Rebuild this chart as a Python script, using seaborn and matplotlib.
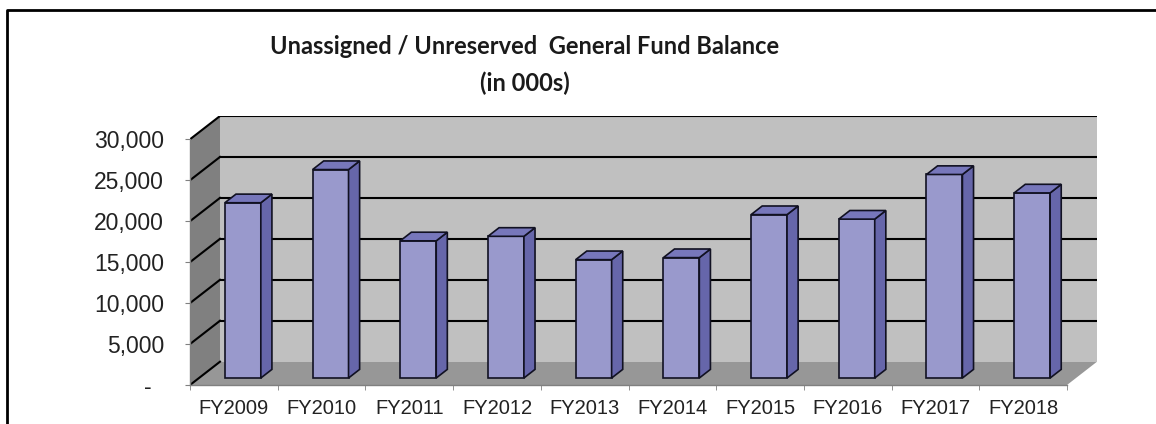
import matplotlib
matplotlib.use("Agg")
import matplotlib.pyplot as plt
import seaborn as sns
from matplotlib.patches import Polygon
from matplotlib.lines import Line2D
from matplotlib.ticker import FixedLocator

# Data (in 000s)
years = ['FY2009', 'FY2010', 'FY2011', 'FY2012', 'FY2013',
         'FY2014', 'FY2015', 'FY2016', 'FY2017', 'FY2018']
balance = [21400, 25450, 16750, 17300, 14450, 14700, 19950, 19400, 24850, 22600]
y_ticks = [0, 5000, 10000, 15000, 20000, 25000, 30000]
y_labels = ['-  ', '5,000', '10,000', '15,000', '20,000', '25,000', '30,000']

# fake 3d look
DX = 0.342      # depth offset in category units
DY = 2845       # depth offset in value units
FRONT = 0.30    # bar front plane (fraction of depth)
DEPTH = 0.37    # bar depth (fraction of depth)
c_front, c_side, c_top = '#9999CC', '#6666AA', '#7777BB'

W, H = 1156, 424
fig = plt.figure(figsize=(W / 100, H / 100), dpi=100)
ax = fig.add_axes([190 / W, 39 / H, (1097 - 190) / W, (385 - 116) / H])

sns.barplot(x=years, y=balance, color=c_front, saturation=1, width=0.41, ax=ax)
bars = list(ax.patches)

ax.set_xlim(-0.5, len(years) - 0.5 + DX)
ax.set_ylim(0, y_ticks[-1] + DY)
x0, x1 = -0.5, len(years) - 0.5
top = y_ticks[-1]

# walls and floor
ax.add_patch(Polygon([(x0, 0), (x0, top), (x0 + DX, top + DY), (x0 + DX, DY)],
                     closed=True, facecolor='#808080', edgecolor='none', zorder=1))
ax.add_patch(Polygon([(x0, 0), (x1, 0), (x1 + DX, DY), (x0 + DX, DY)],
                     closed=True, facecolor='#979797', edgecolor='none', zorder=1))
ax.add_patch(Polygon([(x0 + DX, DY), (x1 + DX, DY), (x1 + DX, top + DY), (x0 + DX, top + DY)],
                     closed=True, facecolor='#C0C0C0', edgecolor='none', zorder=1))

for v in y_ticks:
    ax.plot([x0, x0 + DX], [v, v + DY], color='black', lw=1.5, zorder=2)
    if v > 0:
        ax.plot([x0 + DX, x1 + DX], [v + DY, v + DY], color='black', lw=1.5, zorder=2)

# turn flat bars into boxes
for p in bars:
    bx, bw, bh = p.get_x(), p.get_width(), p.get_height()
    fx, fy = bx + FRONT * DX, FRONT * DY
    p.set_x(fx)
    p.set_y(fy)
    p.set_edgecolor('#111122')
    p.set_linewidth(1.2)
    p.set_zorder(4)
    ddx, ddy = DEPTH * DX, DEPTH * DY
    side = [(fx + bw, fy), (fx + bw, fy + bh), (fx + bw + ddx, fy + bh + ddy), (fx + bw + ddx, fy + ddy)]
    lid = [(fx, fy + bh), (fx + bw, fy + bh), (fx + bw + ddx, fy + bh + ddy), (fx + ddx, fy + bh + ddy)]
    ax.add_patch(Polygon(side, closed=True, facecolor=c_side, edgecolor='#111122', lw=1.2, zorder=4))
    ax.add_patch(Polygon(lid, closed=True, facecolor=c_top, edgecolor='#111122', lw=1.2, zorder=4))

# axes styling
for s in ['top', 'right']:
    ax.spines[s].set_visible(False)
ax.spines['left'].set_bounds(0, top)
ax.spines['bottom'].set_bounds(x0, x1)
for s in ['left', 'bottom']:
    ax.spines[s].set_color('#808080')
    ax.spines[s].set_linewidth(1)
    ax.spines[s].set_zorder(3)

ax.set_yticks(y_ticks)
ax.set_yticklabels(y_labels, fontfamily='Liberation Sans', fontsize=16.5)
ax.tick_params(axis='y', length=3.6, color='#808080', pad=15, labelcolor='#222222')

ax.set_xticks(range(len(years)))
ax.set_xticklabels(years, fontfamily='Liberation Sans', fontsize=14.5)
ax.xaxis.set_minor_locator(FixedLocator([i - 0.5 for i in range(len(years) + 1)]))
ax.tick_params(axis='x', which='major', length=0, pad=10, labelcolor='#222222')
ax.tick_params(axis='x', which='minor', length=3.6, color='#808080')
ax.set_xlabel('')
ax.set_ylabel('')
ax.grid(False)

# title
fig.text(525 / W, 1 - 47 / H, 'Unassigned / Unreserved  General Fund Balance',
         ha='center', va='center', fontsize=17, fontweight='bold', fontfamily='Lato', color='#1a1a1a')
fig.text(525 / W, 1 - 83 / H, '(in 000s)',
         ha='center', va='center', fontsize=17, fontweight='bold', fontfamily='Lato', color='#1a1a1a')

# chart border (cropped)
fig.add_artist(Line2D([7 / W, 7 / W, 1], [0, 1 - 10 / H, 1 - 10 / H],
                      transform=fig.transFigure, color='black', lw=2))

fig.savefig('out.png', dpi=100)
